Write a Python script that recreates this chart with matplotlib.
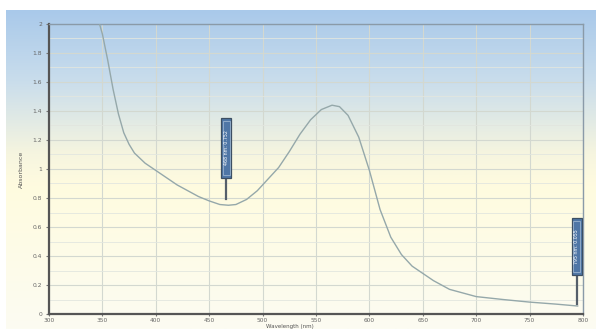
import numpy as np
import matplotlib
matplotlib.use("Agg")
import matplotlib.pyplot as plt
from matplotlib.colors import LinearSegmentedColormap
from matplotlib.patches import Rectangle

# Data
wavelength = [345, 350, 355, 360, 365, 370, 375, 380, 390, 400, 410, 420, 430, 440,
              450, 460, 468, 475, 485, 495, 505, 515, 525, 535, 545, 555, 565, 572,
              580, 590, 600, 610, 620, 630, 640, 650, 660, 675, 690, 700, 725, 750,
              775, 795]
absorbance = [2.06, 1.93, 1.75, 1.55, 1.38, 1.25, 1.17, 1.11, 1.04, 0.99, 0.94, 0.89,
              0.85, 0.81, 0.78, 0.755, 0.75, 0.755, 0.79, 0.85, 0.93, 1.01, 1.12, 1.24,
              1.34, 1.41, 1.44, 1.43, 1.37, 1.22, 0.99, 0.72, 0.53, 0.41, 0.33, 0.28,
              0.23, 0.17, 0.14, 0.12, 0.10, 0.082, 0.068, 0.055]

marker_x = [466, 794]
marker_y = [0.79, 0.07]
marker_box_bottom = [0.94, 0.27]
marker_box_top = [1.35, 0.66]
marker_labels = ["468 nm: 0.752", "795 nm: 0.055"]

x_ticks = [300, 350, 400, 450, 500, 550, 600, 650, 700, 750, 800]
y_ticks = [0, 0.2, 0.4, 0.6, 0.8, 1, 1.2, 1.4, 1.6, 1.8, 2]
y_tick_labels = ["0", "0.2", "0.4", "0.6", "0.8", "1", "1.2", "1.4", "1.6", "1.8", "2"]

W, H = 596, 329
fig = plt.figure(figsize=(W / 100, H / 100), dpi=100)
fig.patch.set_facecolor("white")

# gradient background panel
bg = fig.add_axes([6 / W, 0, (W - 6) / W, (H - 10) / H], zorder=-5)
cmap = LinearSegmentedColormap.from_list(
    "bg", [(0.0, "#a9c9ea"), (0.22, "#c9ddec"), (0.45, "#f6f5df"),
           (0.55, "#fffbdf"), (1.0, "#fcfcf2")])
grad = np.linspace(0, 1, 256).reshape(-1, 1)
bg.imshow(grad, aspect="auto", cmap=cmap, extent=[0, 1, 1, 0])
bg.set_axis_off()

ax = fig.add_axes([49 / W, (H - 314) / H, (583 - 49) / W, (314 - 24) / H])
ax.patch.set_alpha(0)
ax.set_xlim(300, 800)
ax.set_ylim(0, 2)

ax.set_xticks(x_ticks)
ax.set_xticklabels([str(t) for t in x_ticks])
ax.set_yticks(y_ticks)
ax.set_yticklabels(y_tick_labels)
ax.set_yticks(np.arange(0.1, 2.0, 0.2), minor=True)
ax.grid(True, which="major", color="#d3d8d0", linewidth=0.8)
ax.grid(True, which="minor", axis="y", color="#e2e6df", linewidth=0.6)
ax.tick_params(axis="y", which="major", labelsize=4.3, labelcolor="#666666",
               length=2, color="#777777", pad=3)
ax.tick_params(axis="x", which="major", labelsize=4.2, labelcolor="#666666",
               length=1.5, color="#777777", pad=1.5)
ax.tick_params(axis="both", which="minor", length=0)

for s in ["left", "bottom"]:
    ax.spines[s].set_color("#555555")
    ax.spines[s].set_linewidth(1.6)
for s in ["top", "right"]:
    ax.spines[s].set_color("#8a9aa8")
    ax.spines[s].set_linewidth(1.0)

ax.plot(wavelength, absorbance, color="#95a8aa", linewidth=1.0, zorder=3)

box_w = 9.5  # nm
for mx, my, yb, yt, lab in zip(marker_x, marker_y, marker_box_bottom, marker_box_top, marker_labels):
    ax.plot([mx, mx], [my, yb], color="#555f6a", linewidth=1.6, zorder=4)
    ax.add_patch(Rectangle((mx - box_w / 2, yb), box_w, yt - yb, facecolor="#4f76a6",
                           edgecolor="#3d4f63", linewidth=0.9, zorder=5))
    ax.add_patch(Rectangle((mx - box_w / 2 + 1.6, yb + 0.02), box_w - 3.2, yt - yb - 0.04,
                           facecolor="none", edgecolor="#a9bfd6", linewidth=0.5, zorder=6))
    ax.text(mx, (yb + yt) / 2, lab, rotation=90, ha="center", va="center",
            fontsize=3.4, color="white", zorder=7)

ax.set_ylabel("Absorbance", fontsize=4.5, color="#555555", labelpad=6)
fig.text(290 / W, 0.3 / H, "Wavelength (nm)", fontsize=4.0, color="#555555",
         ha="center", va="bottom")

fig.savefig("out.png", dpi=100)
